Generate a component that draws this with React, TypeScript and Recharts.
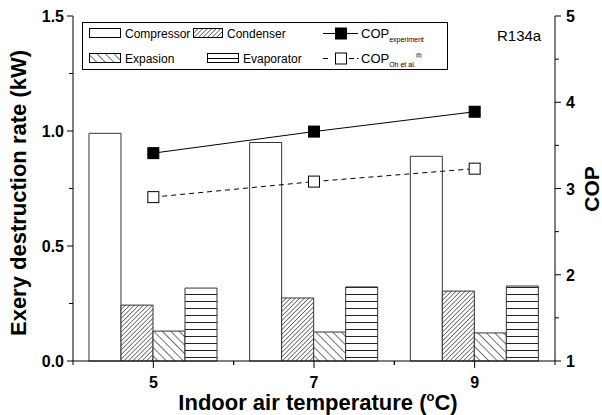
import React from "react";
import { ComposedChart, Bar, Line, XAxis, YAxis } from "recharts";

// values (kW on the left axis, COP on the right)
const temps = ["5", "7", "9"];
const compressor = [0.99, 0.95, 0.89];
const condenser = [0.243, 0.274, 0.304];
const expasion = [0.13, 0.126, 0.122];
const evaporator = [0.317, 0.322, 0.326];
const copExperiment = [3.41, 3.66, 3.89];
const copOh = [2.9, 3.08, 3.23];

const leftTicks = [0, 0.25, 0.5, 0.75, 1, 1.25, 1.5];
const leftMajor = [0, 0.5, 1, 1.5];
const rightTicks = [1, 1.5, 2, 2.5, 3, 3.5, 4, 4.5, 5];
const rightMajor = [1, 2, 3, 4, 5];
const topTicks = [5, 6, 7, 8, 9];

const W = 602;
const H = 415;
const LEFT_W = 73;
const RIGHT_W = 47;
const TOP = 16;
const BOTTOM_H = 54;
const FONT = "'Liberation Sans', Arial, Helvetica, sans-serif";
const EDGE = "#333";

const data = temps.map((t, i) => ({
  t,
  compressor: compressor[i],
  condenser: condenser[i],
  expasion: expasion[i],
  evaporator: evaporator[i],
  copExp: copExperiment[i],
  copOh: copOh[i],
}));

const halfBand = (W - LEFT_W - RIGHT_W) / temps.length / 2;

const LeftTick = (props: any) => {
  const { x, y, payload } = props;
  const major = leftMajor.includes(payload.value);
  return (
    <g>
      <line x1={x} x2={x - (major ? 6 : 4)} y1={y} y2={y} stroke="#000" />
      {major && (
        <text x={x - 9} y={y + 6} textAnchor="end" fontSize={16} fontWeight="bold" fontFamily={FONT} fill="#000">
          {payload.value.toFixed(1)}
        </text>
      )}
    </g>
  );
};

const RightTick = (props: any) => {
  const { x, y, payload } = props;
  const major = rightMajor.includes(payload.value);
  return (
    <g>
      <line x1={x} x2={x + (major ? 6 : 4)} y1={y} y2={y} stroke="#000" />
      {major && (
        <text x={x + 11} y={y + 6} textAnchor="start" fontSize={16} fontWeight="bold" fontFamily={FONT} fill="#000">
          {payload.value}
        </text>
      )}
    </g>
  );
};

const BottomTick = (props: any) => {
  const { x, y, payload } = props;
  return (
    <g stroke="#000">
      <line x1={x} x2={x} y1={y} y2={y + 7} />
      <line x1={x - halfBand} x2={x - halfBand} y1={y} y2={y + 4} />
      <line x1={x + halfBand} x2={x + halfBand} y1={y} y2={y + 4} />
      <text x={x} y={y + 27} stroke="none" textAnchor="middle" fontSize={16} fontWeight="bold" fontFamily={FONT} fill="#000">
        {payload.value}
      </text>
    </g>
  );
};

const TopTick = (props: any) => {
  const { x, y } = props;
  return <line x1={x} x2={x} y1={y} y2={y - 2} stroke="#000" />;
};

const SquareDot = (props: any) => {
  const { cx, cy, fill } = props;
  if (cx == null || cy == null) return null;
  return <rect x={cx - 5.5} y={cy - 5.5} width={11} height={11} fill={fill} stroke="#000" strokeWidth={1} />;
};

const Patterns = ({ prefix }: { prefix: string }) => (
  <defs>
    <pattern id={`${prefix}-cond`} patternUnits="userSpaceOnUse" width={3.2} height={3.2} patternTransform="rotate(45)">
      <rect width={3.2} height={3.2} fill="#fff" />
      <line x1={0} y1={0} x2={0} y2={3.2} stroke="#000" strokeWidth={1} />
    </pattern>
    <pattern id={`${prefix}-exp`} patternUnits="userSpaceOnUse" width={6} height={6} patternTransform="rotate(-45)">
      <rect width={6} height={6} fill="#fff" />
      <line x1={0} y1={0} x2={0} y2={6} stroke="#000" strokeWidth={1.1} />
    </pattern>
    <pattern id={`${prefix}-evap`} patternUnits="userSpaceOnUse" width={8} height={7}>
      <rect width={8} height={7} fill="#fff" />
      <line x1={0} y1={0.5} x2={8} y2={0.5} stroke="#222" strokeWidth={1} />
    </pattern>
  </defs>
);

const Overlay = () => {
  const r1 = 33;
  const r2 = 58;
  const txt = { fontFamily: FONT, fontSize: 12, fill: "#000" } as const;
  return (
    <svg width={W} height={H} style={{ position: "absolute", left: 0, top: 0, pointerEvents: "none" }}>
      <Patterns prefix="lg" />
      {/* legend box */}
      <rect x={82.5} y={22.5} width={365} height={47} fill="#fff" stroke="#000" />
      <rect x={89.5} y={r1 - 4.5} width={31} height={9} fill="#fff" stroke="#000" />
      <text x={125} y={r1 + 4.5} {...txt}>Compressor</text>
      <rect x={193.5} y={r1 - 4.5} width={29} height={9} fill="url(#lg-cond)" stroke="#000" />
      <text x={227} y={r1 + 4.5} {...txt}>Condenser</text>
      <line x1={323} x2={358} y1={r1 + 0.5} y2={r1 + 0.5} stroke="#000" />
      <rect x={335.5} y={r1 - 5} width={11} height={11} fill="#000" stroke="#000" />
      <text x={361} y={r1 + 4.5} {...txt} fontSize={13}>
        COP<tspan fontSize={7} dy={4}>experiment</tspan>
      </text>

      <rect x={89.5} y={r2 - 4.5} width={31} height={9} fill="url(#lg-exp)" stroke="#000" />
      <text x={125} y={r2 + 4.5} {...txt}>Expasion</text>
      <rect x={207.5} y={r2 - 4.5} width={31} height={9} fill="#fff" stroke="#000" />
      <line x1={207.5} x2={238.5} y1={r2 + 0.5} y2={r2 + 0.5} stroke="#000" />
      <text x={243} y={r2 + 4.5} {...txt}>Evaporator</text>
      <line x1={323} x2={328} y1={r2 + 0.5} y2={r2 + 0.5} stroke="#000" />
      <rect x={335.5} y={r2 - 5} width={11} height={11} fill="#fff" stroke="#000" />
      <line x1={349} x2={354} y1={r2 + 0.5} y2={r2 + 0.5} stroke="#000" />
      <line x1={357} x2={358.5} y1={r2 + 0.5} y2={r2 + 0.5} stroke="#000" />
      <text x={361} y={r2 + 4.5} {...txt} fontSize={13}>
        COP<tspan fontSize={7} dy={4}>Oh et al.</tspan>
        <tspan fontSize={5} dy={-10}>(8)</tspan>
      </text>

      <text x={497} y={41} fontFamily={FONT} fontSize={15} fill="#000">R134a</text>

      {/* axis titles */}
      <text transform="translate(26,193) rotate(-90)" textAnchor="middle" fontFamily={FONT} fontSize={22} fontWeight="bold" fill="#000">
        Exery destruction rate (kW)
      </text>
      <text x={318} y={410} textAnchor="middle" fontFamily={FONT} fontSize={22} fontWeight="bold" fill="#000">
        Indoor air temperature (<tspan fontSize={13} dy={-9}>o</tspan>
        <tspan dy={9}>C)</tspan>
      </text>
      <text transform="translate(599,189) rotate(-90)" textAnchor="middle" fontFamily={FONT} fontSize={21} fontWeight="bold" fill="#000">
        COP
      </text>
    </svg>
  );
};

export default function App() {
  return (
    <div style={{ position: "absolute", left: 0, top: 0, width: W, height: H, background: "#fff" }}>
      <ComposedChart
        width={W}
        height={H}
        data={data}
        margin={{ top: TOP, right: 0, bottom: 0, left: 0 }}
        barGap={0}
      >
        <Patterns prefix="ch" />
        <XAxis
          dataKey="t"
          height={BOTTOM_H}
          axisLine={{ stroke: "#000" }}
          tickLine={false}
          tickSize={0}
          tickMargin={0}
          tick={<BottomTick />}
          interval={0}
        />
        <XAxis
          xAxisId="top"
          orientation="top"
          type="number"
          domain={[4, 10]}
          allowDataOverflow
          ticks={topTicks}
          height={0}
          axisLine={{ stroke: "#000" }}
          tickLine={false}
          tickSize={0}
          tickMargin={0}
          tick={<TopTick />}
        />
        <YAxis
          yAxisId="left"
          width={LEFT_W}
          domain={[0, 1.5]}
          ticks={leftTicks}
          axisLine={{ stroke: "#000" }}
          tickLine={false}
          tickSize={0}
          tickMargin={0}
          tick={<LeftTick />}
          interval={0}
        />
        <YAxis
          yAxisId="right"
          orientation="right"
          width={RIGHT_W}
          domain={[1, 5]}
          ticks={rightTicks}
          axisLine={{ stroke: "#000" }}
          tickLine={false}
          tickSize={0}
          tickMargin={0}
          tick={<RightTick />}
          interval={0}
        />
        <Bar yAxisId="left" dataKey="compressor" barSize={32} fill="#fff" stroke={EDGE} isAnimationActive={false} />
        <Bar yAxisId="left" dataKey="condenser" barSize={32} fill="url(#ch-cond)" stroke={EDGE} isAnimationActive={false} />
        <Bar yAxisId="left" dataKey="expasion" barSize={32} fill="url(#ch-exp)" stroke={EDGE} isAnimationActive={false} />
        <Bar yAxisId="left" dataKey="evaporator" barSize={32} fill="url(#ch-evap)" stroke={EDGE} isAnimationActive={false} />
        <Line
          yAxisId="right"
          dataKey="copExp"
          stroke="#000"
          strokeWidth={1}
          dot={<SquareDot fill="#000" />}
          activeDot={false}
          isAnimationActive={false}
        />
        <Line
          yAxisId="right"
          dataKey="copOh"
          stroke="#000"
          strokeWidth={1}
          strokeDasharray="5 4"
          dot={<SquareDot fill="#fff" />}
          activeDot={false}
          isAnimationActive={false}
        />
      </ComposedChart>
      <Overlay />
    </div>
  );
}
